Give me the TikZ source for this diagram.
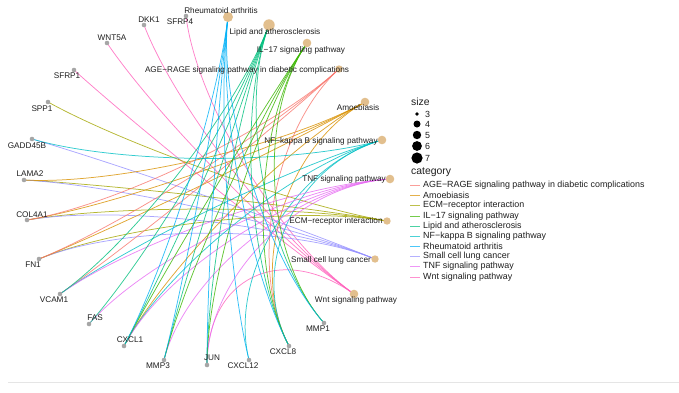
\documentclass[tikz,border=0pt]{standalone}
\usepackage{fontspec}
\setmainfont{Liberation Sans}
\usetikzlibrary{calc}
\definecolor{cAGE}{HTML}{F8766D}
\definecolor{cAMO}{HTML}{D89000}
\definecolor{cECM}{HTML}{A3A500}
\definecolor{cIL}{HTML}{39B600}
\definecolor{cLIP}{HTML}{00BF7D}
\definecolor{cNFK}{HTML}{00BFC4}
\definecolor{cRA}{HTML}{00B0F6}
\definecolor{cSCLC}{HTML}{9590FF}
\definecolor{cTNF}{HTML}{E76BF3}
\definecolor{cWNT}{HTML}{FF62BC}
\definecolor{catfill}{HTML}{E2BF8E}
\definecolor{genefill}{HTML}{A6A6A6}
\definecolor{txt}{HTML}{1E1E1E}
\pgfdeclarelayer{bg}
\pgfsetlayers{bg,main}
\newcommand\lnk[3]{\draw[edgeln=#3] (#1.center) .. controls ($(#1)!0.5!(O)$) and ($(#2)!0.5!(O)$) .. (#2.center);}
\begin{document}
\begin{tikzpicture}[x=1pt,y=-1pt,
  gdot/.style={circle,fill=genefill,inner sep=0pt,minimum size=4.6pt},
  cdot/.style={circle,fill=catfill,inner sep=0pt,minimum size=#1},
  lbl/.style={font=\fontsize{8.2}{9}\selectfont,text=txt,inner sep=0pt},
  legt/.style={font=\fontsize{8.9}{10}\selectfont,text=txt,inner sep=0pt,anchor=west},
  legh/.style={font=\fontsize{10.4}{12}\selectfont,text=txt,inner sep=0pt,anchor=west},
  edgeln/.style={draw=#1,line width=0.75pt,draw opacity=0.8},
  keyln/.style={draw=#1,line width=1pt,draw opacity=0.7},
  sdot/.style={circle,fill=black,inner sep=0pt,minimum size=#1}]
\useasboundingbox (0,0) rectangle (679,392);
\coordinate (O) at (207,190);

% category nodes
\node[cdot=10pt] (RA) at (228,17) {};
\node[cdot=11.4pt] (LIP) at (269,25) {};
\node[cdot=8.6pt] (IL) at (307,43) {};
\node[cdot=7.4pt] (AGE) at (339,69) {};
\node[cdot=8.6pt] (AMO) at (365,102) {};
\node[cdot=8.6pt] (NFK) at (382,140) {};
\node[cdot=8.6pt] (TNF) at (390,179) {};
\node[cdot=7.4pt] (ECM) at (387,221) {};
\node[cdot=7.4pt] (SCLC) at (375,259) {};
\node[cdot=8.6pt] (WNT) at (354,294) {};

% gene nodes
\node[gdot] (gDKK1) at (144,25) {};
\node[gdot] (gSFRP4) at (186,16) {};
\node[gdot] (gWNT5A) at (107,43) {};
\node[gdot] (gSFRP1) at (74,70) {};
\node[gdot] (gSPP1) at (48,102) {};
\node[gdot] (gGADD) at (32,139) {};
\node[gdot] (gLAMA2) at (24,180) {};
\node[gdot] (gCOL) at (27,220) {};
\node[gdot] (gFN1) at (39,259) {};
\node[gdot] (gVCAM1) at (60,294) {};
\node[gdot] (gFAS) at (89,324) {};
\node[gdot] (gCXCLa) at (124,346) {};
\node[gdot] (gMMP3) at (164,360) {};
\node[gdot] (gJUN) at (207,365) {};
\node[gdot] (gCXCLb) at (249,360) {};
\node[gdot] (gCXCLc) at (289,346) {};
\node[gdot] (gMMP1) at (324,323) {};

\begin{pgfonlayer}{bg}
% Wnt
\lnk{gDKK1}{WNT}{cWNT}
\lnk{gSFRP4}{WNT}{cWNT}
\lnk{gWNT5A}{WNT}{cWNT}
\lnk{gSFRP1}{WNT}{cWNT}
\lnk{gJUN}{WNT}{cWNT}
% ECM
\lnk{gSPP1}{ECM}{cECM}
\lnk{gLAMA2}{ECM}{cECM}
\lnk{gCOL}{ECM}{cECM}
\lnk{gFN1}{ECM}{cECM}
% SCLC
\lnk{gGADD}{SCLC}{cSCLC}
\lnk{gLAMA2}{SCLC}{cSCLC}
\lnk{gCOL}{SCLC}{cSCLC}
\lnk{gFN1}{SCLC}{cSCLC}
% Amoebiasis
\lnk{gLAMA2}{AMO}{cAMO}
\lnk{gCOL}{AMO}{cAMO}
\lnk{gFN1}{AMO}{cAMO}
\lnk{gCXCLc}{AMO}{cAMO}
\lnk{gCXCLa}{AMO}{cAMO}
% AGE-RAGE
\lnk{gCOL}{AGE}{cAGE}
\lnk{gFN1}{AGE}{cAGE}
\lnk{gVCAM1}{AGE}{cAGE}
\lnk{gCXCLc}{AGE}{cAGE}
% NF-kB
\lnk{gGADD}{NFK}{cNFK}
\lnk{gVCAM1}{NFK}{cNFK}
\lnk{gCXCLa}{NFK}{cNFK}
\lnk{gCXCLb}{NFK}{cNFK}
\lnk{gCXCLc}{NFK}{cNFK}
% TNF
\lnk{gVCAM1}{TNF}{cTNF}
\lnk{gFAS}{TNF}{cTNF}
\lnk{gCXCLa}{TNF}{cTNF}
\lnk{gMMP3}{TNF}{cTNF}
\lnk{gJUN}{TNF}{cTNF}
% Lipid
\lnk{gVCAM1}{LIP}{cLIP}
\lnk{gFAS}{LIP}{cLIP}
\lnk{gCXCLa}{LIP}{cLIP}
\lnk{gMMP3}{LIP}{cLIP}
\lnk{gJUN}{LIP}{cLIP}
\lnk{gCXCLc}{LIP}{cLIP}
\lnk{gMMP1}{LIP}{cLIP}
% IL-17
\lnk{gCXCLa}{IL}{cIL}
\lnk{gMMP3}{IL}{cIL}
\lnk{gJUN}{IL}{cIL}
\lnk{gCXCLc}{IL}{cIL}
\lnk{gMMP1}{IL}{cIL}
% RA
\lnk{gCXCLa}{RA}{cRA}
\lnk{gMMP3}{RA}{cRA}
\lnk{gJUN}{RA}{cRA}
\lnk{gCXCLb}{RA}{cRA}
\lnk{gCXCLc}{RA}{cRA}
\lnk{gMMP1}{RA}{cRA}
\end{pgfonlayer}

% category labels
\node[lbl] (tRA) at (221,11) {Rheumatoid arthritis};
\node[lbl] (tLIP) at (275,32) {Lipid and atherosclerosis};
\node[lbl] (tIL) at (301,50) {IL−17 signaling pathway};
\node[lbl] (tAGE) at (247,70) {AGE−RAGE signaling pathway in diabetic complications};
\node[lbl] (tAMO) at (358,108) {Amoebiasis};
\node[lbl] (tNFK) at (321,141) {NF−kappa B signaling pathway};
\node[lbl] (tTNF) at (344,179) {TNF signaling pathway};
\node[lbl] (tECM) at (336,221) {ECM−receptor interaction};
\node[lbl] (tSCLC) at (331,260) {Small cell lung cancer};
\node[lbl] (tWNT) at (356,300) {Wnt signaling pathway};

% gene labels
\node[lbl] (tDKK1) at (149,20) {DKK1};
\node[lbl] (tSFRP4) at (180,22) {SFRP4};
\node[lbl] (tWNT5A) at (112,38) {WNT5A};
\node[lbl] (tSFRP1) at (67,76) {SFRP1};
\node[lbl] (tSPP1) at (42,109) {SPP1};
\node[lbl] (tGADD) at (27,146) {GADD45B};
\node[lbl] (tLAMA2) at (30,174) {LAMA2};
\node[lbl] (tCOL) at (32,215) {COL4A1};
\node[lbl] (tFN1) at (33,265) {FN1};
\node[lbl] (tVCAM1) at (54,300) {VCAM1};
\node[lbl] (tFAS) at (95,318) {FAS};
\node[lbl] (tCXCLa) at (130,340) {CXCL1};
\node[lbl] (tMMP3) at (158,366) {MMP3};
\node[lbl] (tJUN) at (212,358) {JUN};
\node[lbl] (tCXCLb) at (243,366) {CXCL12};
\node[lbl] (tCXCLc) at (283,352) {CXCL8};
\node[lbl] (tMMP1) at (318,329) {MMP1};

% legend: size
\node[legh] (hsize) at (411,102) {size};
\node[sdot=3.6pt] (s3) at (417,114) {};
\node[sdot=7pt] (s4) at (417,124) {};
\node[sdot=8.4pt] (s5) at (417,135) {};
\node[sdot=9.8pt] (s6) at (417,146) {};
\node[sdot=11.2pt] (s7) at (417,158) {};
\node[legt] (ls3) at (425,114) {3};
\node[legt] (ls4) at (425,124) {4};
\node[legt] (ls5) at (425,135) {5};
\node[legt] (ls6) at (425,146) {6};
\node[legt] (ls7) at (425,158) {7};

% legend: category
\node[legh] (hcat) at (411,172) {category};
\draw[keyln=cAGE] (410,185) -- (420,185);
\draw[keyln=cAMO] (410,195) -- (420,195);
\draw[keyln=cECM] (410,205) -- (420,205);
\draw[keyln=cIL] (410,216) -- (420,216);
\draw[keyln=cLIP] (410,226) -- (420,226);
\draw[keyln=cNFK] (410,236) -- (420,236);
\draw[keyln=cRA] (410,246) -- (420,246);
\draw[keyln=cSCLC] (410,256) -- (420,256);
\draw[keyln=cTNF] (410,266) -- (420,266);
\draw[keyln=cWNT] (410,277) -- (420,277);
\node[legt] (k1) at (423,185) {AGE−RAGE signaling pathway in diabetic complications};
\node[legt] (k2) at (423,195) {Amoebiasis};
\node[legt] (k3) at (423,205) {ECM−receptor interaction};
\node[legt] (k4) at (423,216) {IL−17 signaling pathway};
\node[legt] (k5) at (423,226) {Lipid and atherosclerosis};
\node[legt] (k6) at (423,236) {NF−kappa B signaling pathway};
\node[legt] (k7) at (423,246) {Rheumatoid arthritis};
\node[legt] (k8) at (423,256) {Small cell lung cancer};
\node[legt] (k9) at (423,266) {TNF signaling pathway};
\node[legt] (k10) at (423,277) {Wnt signaling pathway};

\draw[black!10,line width=0.6pt] (8,382) -- (679,382);
\end{tikzpicture}
\end{document}
